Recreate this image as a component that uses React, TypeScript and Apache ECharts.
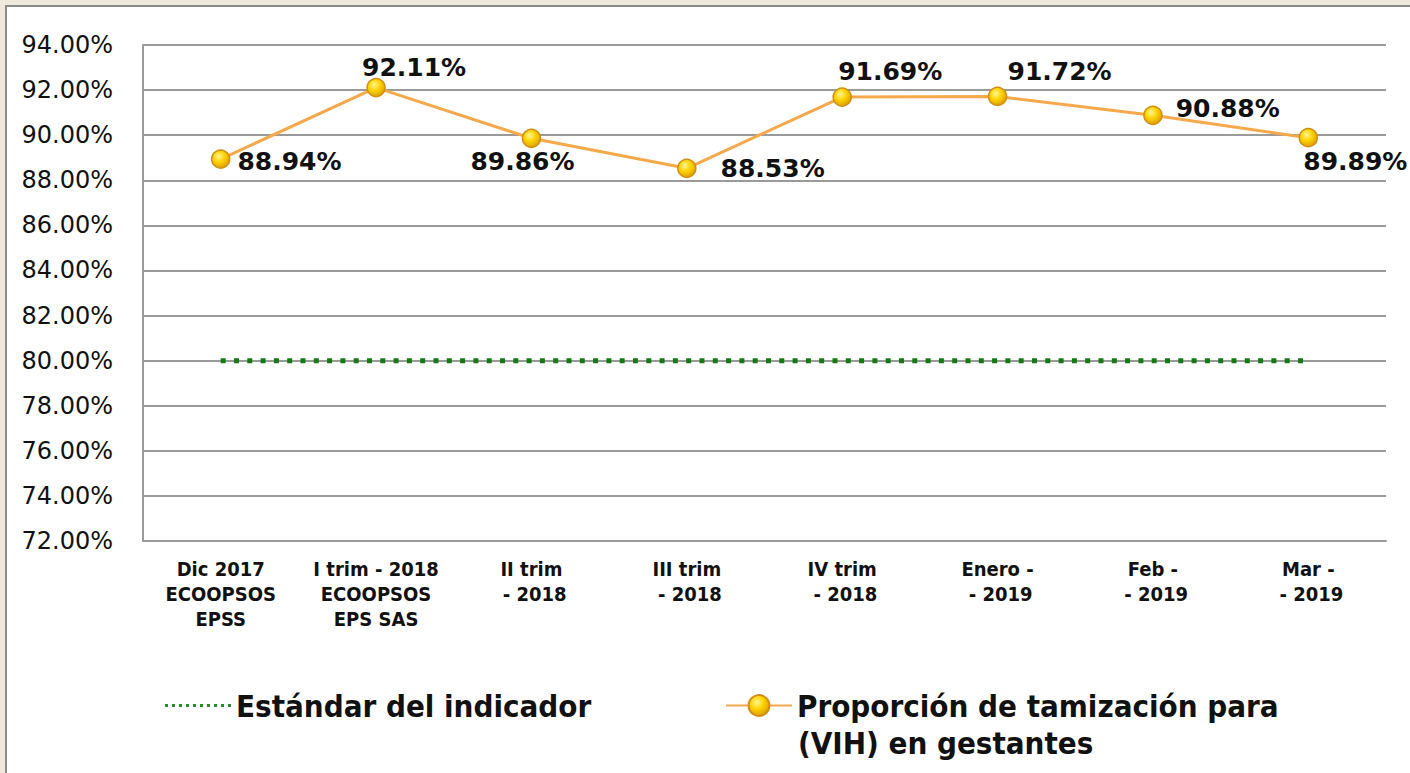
import React, { useEffect, useRef } from "react";
import * as echarts from "echarts";

const categories = [
  "Dic 2017\nECOOPSOS\nEPSS",
  "I trim - 2018\nECOOPSOS\nEPS SAS",
  "II trim\n - 2018",
  "III trim\n - 2018",
  "IV trim\n - 2018",
  "Enero -\n - 2019",
  "Feb -\n - 2019",
  "Mar -\n - 2019",
];
const proporcion = [88.94, 92.11, 89.86, 88.53, 91.69, 91.72, 90.88, 89.89];
const estandar = [80, 80, 80, 80, 80, 80, 80, 80];
const yMin = 72;
const yMax = 94;
const yStep = 2;
const nameEstandar = "Estándar del indicador";
const nameProporcion = "Proporción de tamización para\n(VIH) en gestantes";

// label placement per point (styling only)
const labelPlacement: { position: string; offset: [number, number] }[] = [
  { position: "right", offset: [2, 2] },
  { position: "top", offset: [38, 7] },
  { position: "bottom", offset: [-9, -4] },
  { position: "right", offset: [19, 0] },
  { position: "top", offset: [48, 2] },
  { position: "top", offset: [62, 2] },
  { position: "right", offset: [8, -7] },
  { position: "bottom", offset: [47, -3] },
];

function dottedIconPath() {
  let d = "path://";
  for (let i = 0; i < 10; i++) {
    const x = i * 7;
    d += `M${x},0h3v3h-3z`;
  }
  return d;
}

export default function App() {
  const ref = useRef<HTMLDivElement>(null);
  useEffect(() => {
    if (!ref.current) return;
    const chart = echarts.init(ref.current, null, { renderer: "svg" });
    const markerColor = new echarts.graphic.RadialGradient(0.4, 0.35, 0.7, [
      { offset: 0, color: "#FFF59A" },
      { offset: 0.45, color: "#FFD400" },
      { offset: 1, color: "#D99A00" },
    ]);
    const legendText = {
      fontFamily: "DejaVu Sans Condensed",
      fontWeight: "bold",
      fontSize: 31,
      color: "#111",
    };
    const nameLines = nameProporcion.split("\n");
    chart.setOption({
      animation: false,
      backgroundColor: "#EFE9DC",
      graphic: [
        {
          type: "rect",
          shape: { x: 6, y: 6, width: 1420, height: 800 },
          style: { fill: "#ffffff", stroke: "#8a8a8a", lineWidth: 2 },
          z: -10,
          silent: true,
        },
        {
          type: "text",
          left: 798,
          top: 727,
          style: {
            text: nameLines[1],
            font: "bold 31px 'DejaVu Sans Condensed'",
            fill: "#111",
          },
          silent: true,
        },
      ],
      grid: { left: 143, right: 24, top: 45, bottom: 232, containLabel: false },
      legend: [
        {
          data: [{ name: nameEstandar, icon: dottedIconPath() }],
          left: 160,
          top: 685,
          itemWidth: 66,
          itemHeight: 3,
          itemGap: 12,
          itemStyle: { color: "#2A8E2A" },
          textStyle: legendText,
        },
        {
          data: [nameProporcion],
          left: 720,
          top: 685,
          itemWidth: 66,
          itemHeight: 26,
          itemGap: 10,
          formatter: (n: string) => n.split("\n")[0],
          textStyle: legendText,
        },
      ],
      xAxis: {
        type: "category",
        data: categories,
        boundaryGap: true,
        axisLine: { show: true, lineStyle: { color: "#9a9a9a", width: 2 } },
        axisTick: { show: false },
        axisLabel: {
          interval: 0,
          margin: 15,
          fontFamily: "DejaVu Sans Condensed",
          fontWeight: "bold",
          fontSize: 20,
          lineHeight: 25,
          color: "#111",
          align: "center",
        },
        splitLine: { show: false },
      },
      yAxis: {
        type: "value",
        min: yMin,
        max: yMax,
        interval: yStep,
        axisLine: { show: true, lineStyle: { color: "#9a9a9a", width: 2 } },
        axisTick: { show: false },
        axisLabel: {
          margin: 30,
          fontFamily: "DejaVu Sans",
          fontSize: 24,
          color: "#111",
          formatter: (v: number) => v.toFixed(2) + "%",
        },
        splitLine: { show: true, lineStyle: { color: "#9a9a9a", width: 2 } },
      },
      series: [
        {
          name: nameEstandar,
          type: "line",
          data: estandar,
          symbol: "none",
          lineStyle: {
            color: "#147A14",
            width: 5,
            type: [5, 8.3],
            cap: "butt",
          },
          itemStyle: { color: "#147A14" },
          z: 3,
        },
        {
          name: nameProporcion,
          type: "line",
          data: proporcion.map((v, i) => ({
            value: v,
            label: {
              position: labelPlacement[i].position,
              offset: labelPlacement[i].offset,
            },
          })),
          symbol: "circle",
          symbolSize: 18,
          lineStyle: {
            color: "#F5A94A",
            width: 3,
          },
          itemStyle: {
            color: markerColor,
            borderColor: "#D28E14",
            borderWidth: 1.5,
          },
          label: {
            show: true,
            distance: 5,
            fontFamily: "DejaVu Sans",
            fontWeight: "bold",
            fontSize: 25,
            color: "#111",
            formatter: (p: any) => Number(p.value).toFixed(2) + "%",
          },
          z: 4,
        },
      ],
    });
    return () => chart.dispose();
  }, []);
  return (
    <div
      ref={ref}
      style={{ position: "fixed", left: 0, top: 0, width: 1410, height: 773 }}
    />
  );
}
